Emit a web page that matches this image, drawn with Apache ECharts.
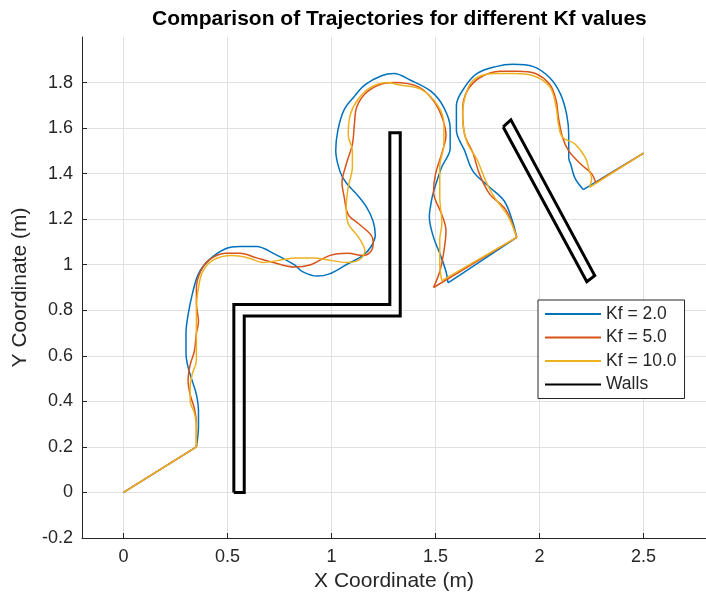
<!DOCTYPE html>
<html>
<head>
<meta charset="utf-8">
<script src="https://cdn.jsdelivr.net/npm/echarts@6/dist/echarts.min.js"></script>
<style>
  html, body { margin: 0; padding: 0; background: #fff; }
  #chart { width: 706px; height: 600px; }
</style>
</head>
<body>
<div id="chart"></div>
<script>
// Tick positions
const xTicks = [0, 0.5, 1, 1.5, 2, 2.5];
const yTicks = [-0.2, 0, 0.2, 0.4, 0.6, 0.8, 1, 1.2, 1.4, 1.6, 1.8];

// Shared waypoints: start, first waypoint, mid-course waypoint, goal
const startPoint = [0, 0];
const firstWaypoint = [0.35, 0.2];
const midWaypoint = [1.89, 1.12];
const goalPoint = [2.5, 1.49];

// Kf = 2.0 trajectory (two legs)
const kf2Leg1 = [
  [0.35, 0.2], [0.36, 0.29], [0.36, 0.36], [0.35, 0.43], [0.33, 0.49], [0.31, 0.55],
  [0.30, 0.61], [0.30, 0.70], [0.31, 0.78], [0.33, 0.87], [0.36, 0.96], [0.41, 1.02],
  [0.49, 1.07], [0.56, 1.08], [0.64, 1.08], [0.72, 1.05], [0.82, 1.00], [0.86, 0.97],
  [0.93, 0.95], [0.99, 0.96], [1.07, 1.00], [1.15, 1.04], [1.19, 1.08], [1.21, 1.13],
  [1.20, 1.19], [1.17, 1.25], [1.12, 1.31], [1.07, 1.36], [1.04, 1.41], [1.02, 1.50],
  [1.03, 1.59], [1.06, 1.68], [1.11, 1.74], [1.16, 1.79], [1.24, 1.83], [1.30, 1.84],
  [1.38, 1.81], [1.48, 1.76], [1.54, 1.69], [1.57, 1.60], [1.57, 1.51], [1.53, 1.43],
  [1.49, 1.32], [1.48, 1.28], [1.47, 1.21], [1.49, 1.12], [1.52, 1.05], [1.55, 0.97],
  [1.56, 0.92]
];
const kf2Leg2 = [
  [1.89, 1.12], [1.87, 1.19], [1.83, 1.28], [1.76, 1.34], [1.68, 1.41], [1.64, 1.50],
  [1.60, 1.59], [1.60, 1.70], [1.64, 1.78], [1.70, 1.84], [1.79, 1.87], [1.87, 1.88],
  [1.97, 1.87], [2.05, 1.82], [2.10, 1.75], [2.13, 1.66], [2.14, 1.57], [2.14, 1.47],
  [2.15, 1.44], [2.17, 1.38], [2.21, 1.33]
];

// Kf = 5.0 trajectory
const kf5Leg1 = [
  [0.35, 0.2], [0.35, 0.30], [0.34, 0.37], [0.32, 0.43], [0.31, 0.49], [0.32, 0.56],
  [0.34, 0.62], [0.35, 0.70], [0.36, 0.75], [0.35, 0.83], [0.35, 0.90], [0.37, 0.97],
  [0.41, 1.02], [0.49, 1.05], [0.56, 1.05], [0.64, 1.03], [0.72, 1.01], [0.82, 0.99],
  [0.90, 1.00], [0.99, 1.04], [1.08, 1.05], [1.15, 1.04], [1.19, 1.06], [1.20, 1.10],
  [1.19, 1.13], [1.13, 1.18], [1.08, 1.22], [1.06, 1.30], [1.05, 1.36], [1.07, 1.44],
  [1.10, 1.53], [1.11, 1.62], [1.12, 1.69], [1.16, 1.75], [1.23, 1.79], [1.30, 1.80],
  [1.42, 1.78], [1.49, 1.72], [1.53, 1.65], [1.55, 1.57], [1.53, 1.49], [1.50, 1.40],
  [1.49, 1.32], [1.53, 1.22], [1.55, 1.15], [1.54, 1.06], [1.52, 0.97], [1.49, 0.90]
];
const kf5Leg2 = [
  [1.89, 1.12], [1.86, 1.20], [1.83, 1.25], [1.76, 1.31], [1.71, 1.40], [1.68, 1.49],
  [1.64, 1.57], [1.63, 1.68], [1.65, 1.76], [1.71, 1.82], [1.81, 1.85], [1.89, 1.85],
  [1.98, 1.84], [2.05, 1.79], [2.08, 1.72], [2.09, 1.65], [2.11, 1.56], [2.14, 1.50],
  [2.20, 1.44], [2.25, 1.40], [2.27, 1.36]
];

// Kf = 10.0 trajectory
const kf10Leg1 = [
  [0.35, 0.2], [0.35, 0.29], [0.34, 0.35], [0.32, 0.40], [0.32, 0.46], [0.33, 0.52],
  [0.35, 0.58], [0.35, 0.65], [0.35, 0.73], [0.35, 0.81], [0.36, 0.90], [0.38, 0.97],
  [0.43, 1.02], [0.52, 1.04], [0.60, 1.03], [0.67, 1.01], [0.75, 1.02], [0.83, 1.03],
  [0.91, 1.03], [0.99, 1.02], [1.07, 1.01], [1.13, 1.02], [1.16, 1.06], [1.13, 1.12],
  [1.08, 1.18], [1.07, 1.25], [1.08, 1.34], [1.10, 1.43], [1.10, 1.50], [1.08, 1.57],
  [1.09, 1.66], [1.13, 1.73], [1.19, 1.78], [1.27, 1.80], [1.32, 1.79], [1.43, 1.77],
  [1.51, 1.70], [1.54, 1.62], [1.54, 1.53], [1.52, 1.43], [1.52, 1.35], [1.52, 1.30],
  [1.53, 1.18], [1.52, 1.11], [1.52, 1.00], [1.53, 0.93]
];
const kf10Leg2 = [
  [1.89, 1.12], [1.85, 1.21], [1.78, 1.30], [1.74, 1.37], [1.70, 1.46], [1.65, 1.54],
  [1.63, 1.65], [1.64, 1.73], [1.68, 1.81], [1.78, 1.84], [1.87, 1.84], [1.97, 1.83],
  [2.05, 1.78], [2.08, 1.69], [2.09, 1.62], [2.11, 1.56], [2.17, 1.53], [2.22, 1.47],
  [2.24, 1.41], [2.25, 1.38], [2.24, 1.34]
];

// Wall outlines (closed polygons)
const wallL = [
  [0.53, 0], [0.53, 0.825], [1.28, 0.825], [1.28, 1.58], [1.33, 1.58],
  [1.33, 0.775], [0.58, 0.775], [0.58, 0], [0.53, 0]
];
const wallDiagonal = [
  [1.825, 1.605], [1.862, 1.636], [2.265, 0.952], [2.227, 0.925], [1.825, 1.605]
];

const names = ['Kf = 2.0', 'Kf = 5.0', 'Kf = 10.0'];
const colors = ['#0072BD', '#D95319', '#EDB120'];
const legs = [[kf2Leg1, kf2Leg2], [kf5Leg1, kf5Leg2], [kf10Leg1, kf10Leg2]];

const FONT = "'Liberation Sans', Arial, Helvetica, sans-serif";
const INK = '#262626';

const series = [];
legs.forEach(function (pair, i) {
  const base = {
    name: names[i], type: 'line', symbol: 'none', animation: false,
    lineStyle: { color: colors[i], width: 1.5 }, itemStyle: { color: colors[i] },
    z: 2 + i
  };
  // straight transfers between waypoints
  const jumps = [
    [startPoint, firstWaypoint],
    [pair[0][pair[0].length - 1], midWaypoint],
    [pair[1][pair[1].length - 1], goalPoint]
  ];
  jumps.forEach(function (seg) {
    series.push(Object.assign({}, base, { data: seg }));
  });
  pair.forEach(function (leg) {
    series.push(Object.assign({}, base, { data: leg, smooth: 0.35 }));
  });
});
[wallL, wallDiagonal].forEach(function (w) {
  series.push({
    name: 'Walls', type: 'line', symbol: 'none', animation: false, data: w,
    lineStyle: { color: '#000', width: 3, join: 'miter' }, itemStyle: { color: '#000' }, z: 6
  });
});

const chart = echarts.init(document.getElementById('chart'), null, { renderer: 'canvas' });
chart.setOption({
  animation: false,
  backgroundColor: '#fff',
  title: {
    text: 'Comparison of Trajectories for different Kf values',
    left: 147, top: 4,
    textStyle: { fontFamily: FONT, fontSize: 21, fontWeight: 'bold', color: '#000' }
  },
  legend: {
    data: names.concat(['Walls']),
    orient: 'vertical',
    left: 538, top: 300,
    itemWidth: 56, itemHeight: 14, itemGap: 5.5,
    padding: [5, 8, 5, 6],
    backgroundColor: '#fff',
    borderColor: INK, borderWidth: 1, borderRadius: 0,
    itemStyle: { opacity: 0, borderWidth: 0 },
    textStyle: { fontFamily: FONT, fontSize: 17.5, color: INK }
  },
  grid: { left: 82, right: -12, top: 37, bottom: 62, containLabel: false },
  xAxis: {
    type: 'value', min: -0.2, max: 2.8,
    name: 'X Coordinate (m)', nameLocation: 'middle', nameGap: 33,
    nameTextStyle: { fontFamily: FONT, fontSize: 21, color: INK },
    axisLine: { show: true, onZero: false, lineStyle: { color: INK, width: 1 } },
    axisTick: { show: true, inside: true, length: 5, customValues: xTicks, lineStyle: { color: INK } },
    axisLabel: { customValues: xTicks, fontFamily: FONT, fontSize: 18, color: INK, margin: 10 },
    splitLine: { show: true, lineStyle: { color: '#e0e0e0', width: 1 } }
  },
  yAxis: {
    type: 'value', min: -0.2, max: 2.0,
    name: 'Y Coordinate (m)', nameLocation: 'middle', nameGap: 43,
    nameTextStyle: { fontFamily: FONT, fontSize: 21, color: INK },
    axisLine: { show: true, onZero: false, lineStyle: { color: INK, width: 1 } },
    axisTick: { show: true, inside: true, length: 5, customValues: yTicks, lineStyle: { color: INK } },
    axisLabel: { customValues: yTicks, fontFamily: FONT, fontSize: 18, color: INK, margin: 9 },
    splitLine: { show: true, lineStyle: { color: '#e0e0e0', width: 1 } }
  },
  series: series
});
</script>
</body>
</html>
